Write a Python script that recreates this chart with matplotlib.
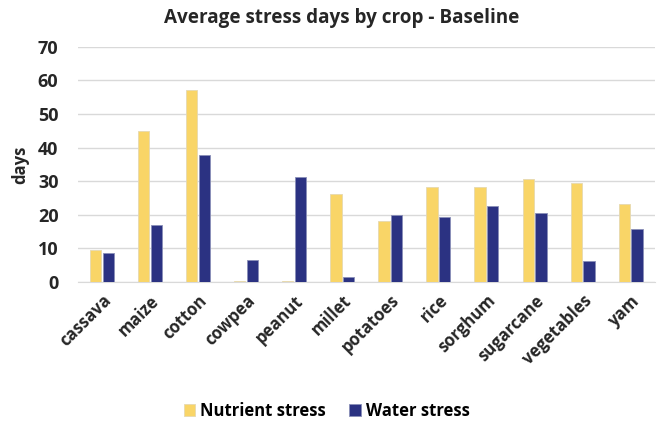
import matplotlib.pyplot as plt
import numpy as np

crops = ["cassava", "maize", "cotton", "cowpea", "peanut", "millet",
         "potatoes", "rice", "sorghum", "sugarcane", "vegetables", "yam"]
nutrient_stress = [9.5, 45.0, 57.0, 0.2, 0.2, 26.2, 18.0, 28.4, 28.4, 30.5, 29.6, 23.2]
water_stress = [8.5, 17.0, 37.7, 6.6, 31.1, 1.5, 19.9, 19.3, 22.6, 20.5, 6.3, 15.8]

YELLOW = "#F9D567"
NAVY = "#2B3282"
TEXT = "#262626"

plt.rcParams["font.family"] = ["Open Sans", "DejaVu Sans"]

fig = plt.figure(figsize=(6.6, 4.22), dpi=100)
ax = fig.add_axes([0.118, 0.332, 0.874, 0.557])

x = np.arange(len(crops))
w = 0.235
gap = 0.03
ax.bar(x - w / 2 - gap / 2, nutrient_stress, w, color=YELLOW,
       edgecolor="#E6D9B0", linewidth=0.6, label="Nutrient stress", zorder=3)
ax.bar(x + w / 2 + gap / 2, water_stress, w, color=NAVY,
       edgecolor="#8A8FB8", linewidth=0.6, label="Water stress", zorder=3)

ax.set_xlim(-0.5, len(crops) - 0.5)
ax.set_ylim(0, 70)
ax.set_yticks(range(0, 71, 10))
ax.grid(axis="y", color="#D9D9D9", linewidth=1.0, zorder=0)
for side in ("top", "right", "left"):
    ax.spines[side].set_visible(False)
ax.spines["bottom"].set_color("#D9D9D9")
ax.tick_params(axis="both", length=0)
ax.tick_params(axis="y", labelsize=13, pad=14, labelcolor=TEXT)
for lbl in ax.get_yticklabels():
    lbl.set_fontweight("bold")

ax.set_xticks(x)
ax.set_xticklabels(crops, rotation=45, ha="right", rotation_mode="anchor",
                   fontsize=12, fontweight="bold", color=TEXT)
ax.tick_params(axis="x", pad=7)

ax.set_ylabel("days", fontsize=12, fontweight="bold", color=TEXT, labelpad=6)
fig.text(0.518, 0.958, "Average stress days by crop - Baseline", fontsize=13.6,
         fontweight="bold", color=TEXT, ha="center", va="center")

fig.legend(loc="lower center", bbox_to_anchor=(0.495, -0.03), ncol=2,
           frameon=False, handlelength=0.7, handleheight=0.7,
           handletextpad=0.3, columnspacing=1.4,
           prop={"weight": "bold", "size": 12})

fig.savefig("out.png", dpi=100)
